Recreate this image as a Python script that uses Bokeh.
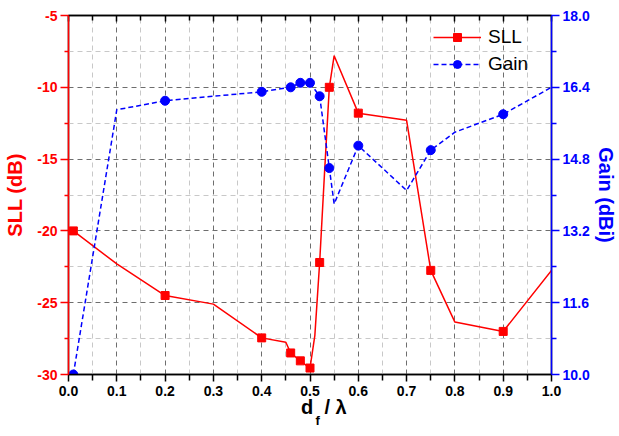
from bokeh.plotting import figure
from bokeh.models import (Range1d, LinearAxis, FixedTicker, NumeralTickFormatter,
                          CustomJSTickFormatter, Label)
from bokeh.embed import file_html
from bokeh.resources import INLINE

# ---- data ----
sll_x = [0.01, 0.1, 0.2, 0.3, 0.4, 0.45, 0.46, 0.48, 0.5, 0.51, 0.52, 0.53, 0.54,
         0.55, 0.6, 0.7, 0.75, 0.8, 0.9, 1.0]
sll_y = [-20.0, -22.3, -24.5, -25.1, -27.45, -27.75, -28.5, -29.05, -29.55, -27.3,
         -22.2, -16.0, -10.0, -7.8, -11.8, -12.3, -22.75, -26.35, -27.0, -22.75]
sll_marked = [1, 0, 1, 0, 1, 0, 1, 1, 1, 0, 1, 0, 1, 0, 1, 0, 1, 0, 1, 0]

gain_x = [0.01, 0.1, 0.2, 0.4, 0.46, 0.48, 0.5, 0.52, 0.54, 0.55, 0.6, 0.7, 0.75,
          0.8, 0.9, 1.0]
gain_y = [10.0, 15.9, 16.1, 16.3, 16.4, 16.5, 16.5, 16.2, 14.6, 13.8, 15.1, 14.1,
          15.0, 15.4, 15.8, 16.4]
gain_marked = [1, 0, 1, 1, 1, 1, 1, 1, 1, 0, 1, 0, 1, 0, 1, 0]

x_ticks = [0.0, 0.1, 0.2, 0.3, 0.4, 0.5, 0.6, 0.7, 0.8, 0.9, 1.0]
x_minor = [0.05, 0.15, 0.25, 0.35, 0.45, 0.55, 0.65, 0.75, 0.85, 0.95]
sll_ticks = [-30, -25, -20, -15, -10, -5]
sll_minor = [-27.5, -22.5, -17.5, -12.5, -7.5]
gain_ticks = [10.0, 11.6, 13.2, 14.8, 16.4, 18.0]
gain_minor = [10.8, 12.4, 14.0, 15.6, 17.2]

RED = "#ff0000"
BLUE = "#0000ff"
FONT = "Liberation Sans"
NB = "\u00a0"

p = figure(width=619, height=436, x_range=Range1d(0, 1), y_range=Range1d(-30, -5),
           output_backend="svg", toolbar_location=None,
           min_border_left=68, min_border_right=68, min_border_top=15, min_border_bottom=62)
p.extra_y_ranges = {"gain": Range1d(10, 18)}
p.outline_line_color = "black"
p.outline_line_width = 1.5
p.background_fill_color = "white"
p.border_fill_color = "white"

# grids
p.xgrid.ticker = FixedTicker(ticks=x_ticks, minor_ticks=x_minor)
p.ygrid.ticker = FixedTicker(ticks=sll_ticks, minor_ticks=sll_minor)
for g in (p.xgrid, p.ygrid):
    g.grid_line_color = "#6e6e6e"
    g.grid_line_dash = "5 4"
    g.grid_line_width = 1
    g.minor_grid_line_color = "#c8c8c8"
    g.minor_grid_line_dash = "5 4"
    g.minor_grid_line_width = 1

# bottom axis
xa = p.xaxis[0]
xa.ticker = FixedTicker(ticks=x_ticks, minor_ticks=x_minor)
xa.formatter = NumeralTickFormatter(format="0.0")
xa.axis_line_color = "black"
xa.axis_line_width = 1.5
xa.major_tick_line_color = "black"
xa.minor_tick_line_color = "black"
xa.major_tick_line_width = 1.5
xa.minor_tick_line_width = 1.5
xa.major_tick_out = 7
xa.major_tick_in = 0
xa.minor_tick_out = 6
xa.minor_tick_in = 0
xa.major_label_text_font = FONT
xa.major_label_text_font_style = "bold"
xa.major_label_text_font_size = "14px"
xa.major_label_text_color = "black"
xa.major_label_standoff = 4
xa.axis_label = NB * 5 + "d" + NB * 2 + "/ λ"
xa.axis_label_text_font = FONT
xa.axis_label_text_font_style = "bold"
xa.axis_label_text_font_size = "20px"
xa.axis_label_text_color = "black"
xa.axis_label_standoff = -3

# left axis
ya = p.yaxis[0]
ya.ticker = FixedTicker(ticks=sll_ticks, minor_ticks=sll_minor)
ya.formatter = NumeralTickFormatter(format="0")
ya.axis_line_color = RED
ya.axis_line_width = 1.5
ya.major_tick_line_color = RED
ya.minor_tick_line_color = RED
ya.major_tick_line_width = 1.5
ya.minor_tick_line_width = 1.5
ya.major_tick_out = 8
ya.major_tick_in = 0
ya.minor_tick_out = 4
ya.minor_tick_in = 0
ya.major_label_text_font = FONT
ya.major_label_text_font_style = "bold"
ya.major_label_text_font_size = "14px"
ya.major_label_text_color = RED
ya.major_label_standoff = 3
ya.axis_label = "SLL (dB)"
ya.axis_label_text_font = FONT
ya.axis_label_text_font_style = "bold"
ya.axis_label_text_font_size = "20px"
ya.axis_label_text_color = RED
ya.axis_label_standoff = 8

# right axis
ra = LinearAxis(y_range_name="gain",
                ticker=FixedTicker(ticks=gain_ticks, minor_ticks=gain_minor),
                formatter=NumeralTickFormatter(format="0.0"))
ra.axis_line_color = BLUE
ra.axis_line_width = 1.5
ra.major_tick_line_color = BLUE
ra.minor_tick_line_color = BLUE
ra.major_tick_line_width = 1.5
ra.minor_tick_line_width = 1.5
ra.major_tick_out = 8
ra.major_tick_in = 0
ra.minor_tick_out = 5
ra.minor_tick_in = 0
ra.major_label_text_font = FONT
ra.major_label_text_font_style = "bold"
ra.major_label_text_font_size = "14px"
ra.major_label_text_color = BLUE
ra.major_label_standoff = 3
ra.axis_label = "Gain (dBi)"
ra.axis_label_text_font = FONT
ra.axis_label_text_font_style = "bold"
ra.axis_label_text_font_size = "20px"
ra.axis_label_text_color = BLUE
ra.axis_label_standoff = 2
p.add_layout(ra, "right")

# top axis: ticks only
ta = LinearAxis(ticker=FixedTicker(ticks=x_ticks, minor_ticks=x_minor),
                formatter=CustomJSTickFormatter(code="return ''"))
ta.axis_line_color = "black"
ta.axis_line_width = 1.5
ta.major_tick_line_color = "black"
ta.minor_tick_line_color = "black"
ta.major_tick_line_width = 1.5
ta.minor_tick_line_width = 1.5
ta.major_tick_in = 6
ta.major_tick_out = 0
ta.minor_tick_in = 5
ta.minor_tick_out = 0
ta.major_label_standoff = 0
ta.major_label_text_font_size = "1px"
p.add_layout(ta, "above")

# series
p.line(sll_x, sll_y, line_color=RED, line_width=1.5, legend_label="SLL")
p.scatter([x for x, m in zip(sll_x, sll_marked) if m],
          [y for y, m in zip(sll_y, sll_marked) if m],
          marker="square", size=8, fill_color=RED, line_color=RED, legend_label="SLL")

p.line(gain_x, gain_y, line_color=BLUE, line_width=1.5, line_dash="5 3",
       y_range_name="gain", legend_label="Gain")
p.scatter([x for x, m in zip(gain_x, gain_marked) if m],
          [y for y, m in zip(gain_y, gain_marked) if m],
          marker="circle", size=9, fill_color=BLUE, line_color=BLUE,
          y_range_name="gain", legend_label="Gain")

leg = p.legend[0]
leg.location = (365, 299)
leg.padding = 0
leg.margin = 0
leg.spacing = 5
leg.glyph_width = 48
leg.glyph_height = 20
leg.label_height = 20
leg.label_standoff = 7
leg.label_text_font = FONT
leg.label_text_font_size = "19px"
leg.label_text_color = "black"
leg.border_line_alpha = 0
leg.background_fill_alpha = 0

# subscript "f" of the x-axis title, in a panel below the axis
p.add_layout(Label(text="f", x=247, y=15, x_units="screen", y_units="screen",
                   text_font=FONT, text_font_style="bold", text_font_size="13px",
                   text_color="black", text_baseline="alphabetic", text_align="left"),
             "below")

open("out.html", "w").write(file_html(p, INLINE))
